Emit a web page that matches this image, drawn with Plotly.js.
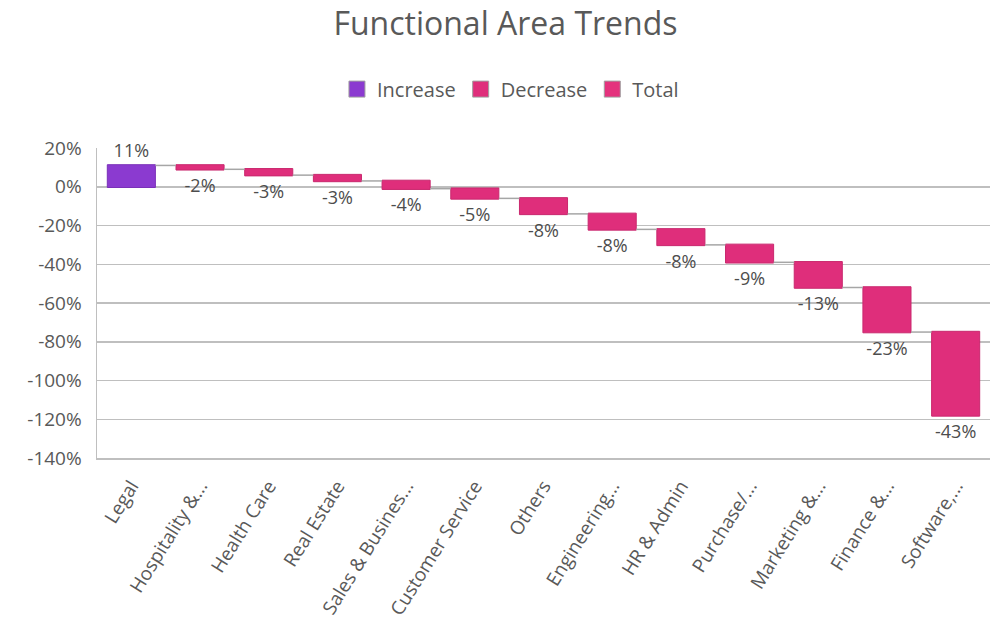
<!DOCTYPE html>
<html>
<head>
<meta charset="utf-8">
<script src="https://cdn.plot.ly/plotly-3.0.1.min.js"></script>
<style>html,body{margin:0;padding:0;background:#fff;}#chart{width:997px;height:631px;}</style>
</head>
<body>
<div id="chart"></div>
<script>
const categories = ["Legal","Hospitality &...","Health Care","Real Estate","Sales & Busines...","Customer Service","Others","Engineering...","HR & Admin","Purchase/...","Marketing &...","Finance &...","Software,..."];
const changes = [11,-2,-3,-3,-4,-5,-8,-8,-8,-9,-13,-23,-43];
const legendNames = ["Increase","Decrease","Total"];
const legendColors = ["#8B3AD0","#DF2E7B","#E4327D"];
const yTicks = [20,0,-20,-40,-60,-80,-100,-120,-140];

const font = "'Open Sans', 'Noto Sans', sans-serif";

const traces = [{
  type: "waterfall",
  x: categories,
  y: changes,
  measure: changes.map(() => "relative"),
  text: changes.map(v => v + "%"),
  textposition: "outside",
  textfont: {family: font, size: 18, color: "#4D4D4D"},
  increasing: {marker: {color: legendColors[0], line: {color: "#7A30B8", width: 1}}},
  decreasing: {marker: {color: legendColors[1], line: {color: "#C9286E", width: 1}}},
  totals: {marker: {color: legendColors[2]}},
  connector: {mode: "between", line: {color: "#A6A6A6", width: 1.5}},
  showlegend: false,
  cliponaxis: false,
  hoverinfo: "x+y"
}];
legendNames.forEach((n, i) => {
  traces.push({type: "scatter", mode: "markers", name: n, x: [null], y: [null],
    marker: {symbol: "square", size: 16, color: legendColors[i], line: {color: "#A0A0A0", width: 1}},
    showlegend: true});
});

const layout = {
  width: 997, height: 631,
  margin: {l: 97, r: 7, t: 148, b: 173},
  paper_bgcolor: "#fff", plot_bgcolor: "#fff",
  title: {text: "Functional Area Trends", x: 0.507, xanchor: "center", y: 0.962, yanchor: "middle",
          font: {family: font, size: 32, color: "#595959"}},
  font: {family: font, color: "#595959"},
  showlegend: true,
  legend: {orientation: "h", x: 0.463, xanchor: "center", y: 1.19, yanchor: "middle",
           font: {family: font, size: 20, color: "#595959"}, itemwidth: 30, traceorder: "normal"},
  waterfallgap: 0.3,
  xaxis: {
    type: "category", tickangle: -58, tickfont: {family: font, size: 19, color: "#595959"},
    showgrid: false, showline: true, linecolor: "#BFBFBF", linewidth: 1.5, ticks: "", automargin: false,
    ticklabelstandoff: 8
  },
  yaxis: {
    range: [-140, 20], tickvals: yTicks, ticktext: yTicks.map(v => v + "%"),
    tickfont: {family: font, size: 19, color: "#595959"},
    showgrid: true, gridcolor: "#BFBFBF", gridwidth: 1.5,
    showline: true, linecolor: "#BFBFBF", linewidth: 1.5,
    zeroline: false, ticks: "", automargin: false, ticklabelstandoff: 10
  }
};

Plotly.newPlot("chart", traces, layout, {displayModeBar: false, staticPlot: true});
</script>
</body>
</html>
